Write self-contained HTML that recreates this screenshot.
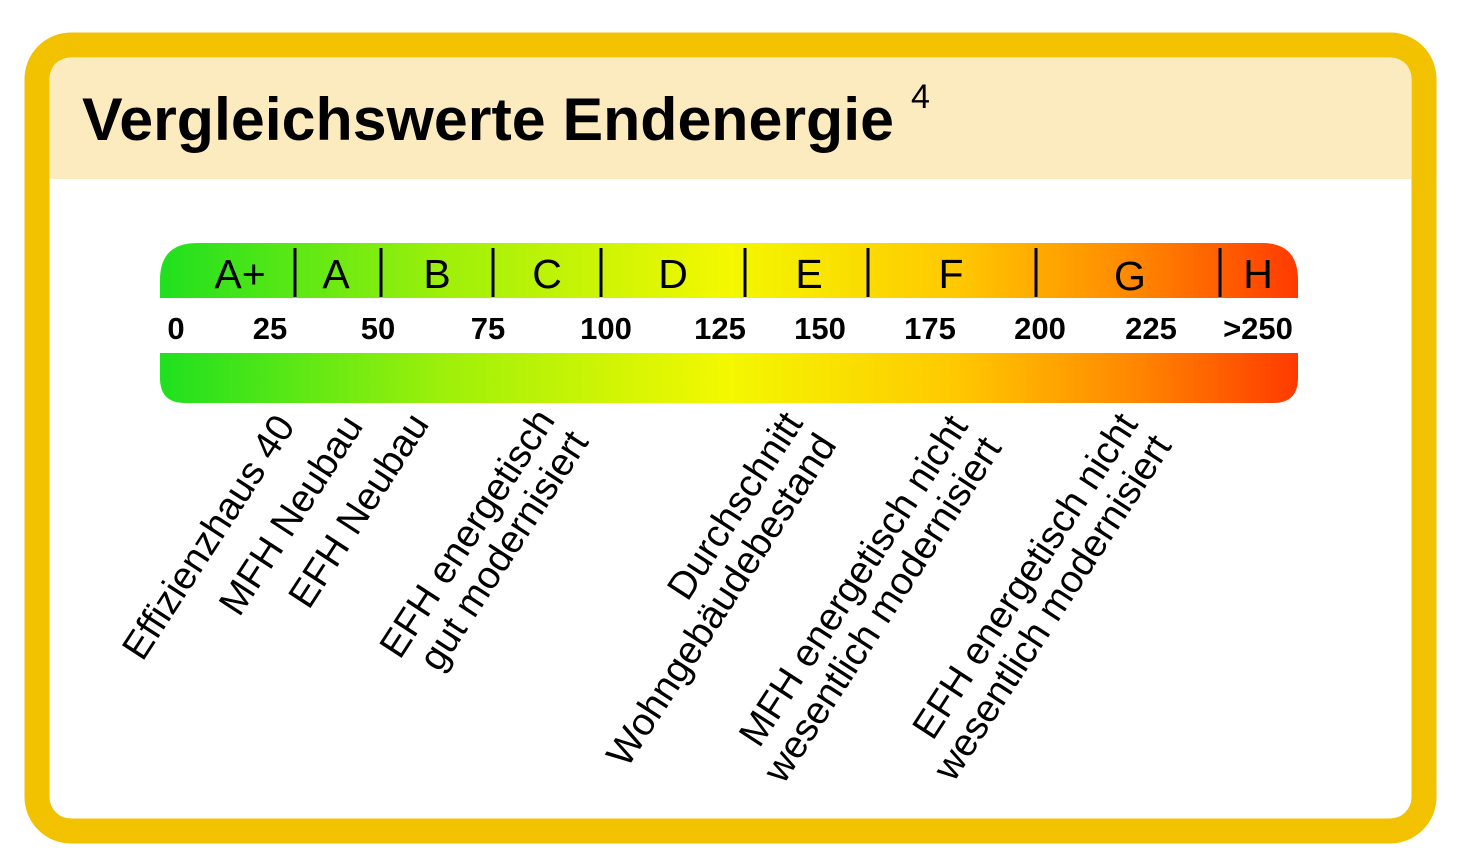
<!DOCTYPE html>
<html><head><meta charset="utf-8"><style>
html,body{margin:0;padding:0;background:#fff;}
body{width:1467px;height:867px;overflow:hidden;position:relative;font-family:"Liberation Sans",Arial,sans-serif;}
</style></head><body>
<svg width="1467" height="867" viewBox="0 0 1467 867" xmlns="http://www.w3.org/2000/svg" style="position:absolute;left:0;top:0">
<defs>
<linearGradient id="g" x1="160" y1="0" x2="1298" y2="0" gradientUnits="userSpaceOnUse">
<stop offset="0" stop-color="#1fe01f"/>
<stop offset="0.25" stop-color="#9ef00a"/>
<stop offset="0.5" stop-color="#f4f800"/>
<stop offset="0.7" stop-color="#ffc800"/>
<stop offset="0.85" stop-color="#ff8a00"/>
<stop offset="1" stop-color="#ff3a00"/>
</linearGradient>
</defs>
<rect x="37" y="45" width="1387" height="786" rx="34" fill="#fff" stroke="#f2c200" stroke-width="25"/>
<path d="M50 80 Q50 58 72 58 L1389 58 Q1411 58 1411 80 L1411 179 L50 179 Z" fill="#fdebc0"/>
<text x="82" y="140" font-size="60" font-weight="bold" fill="#000" textLength="812" lengthAdjust="spacingAndGlyphs">Vergleichswerte Endenergie</text>
<text x="911" y="108" font-size="34" fill="#000">4</text>
<path d="M160 298 L160 280 Q160 243 197 243 L1262 243 Q1298 243 1298 280 L1298 298 Z" fill="url(#g)"/>
<path d="M160 353 L1298 353 L1298 378 Q1298 403 1273 403 L185 403 Q160 403 160 378 Z" fill="url(#g)"/>
<g stroke="#000" stroke-width="3">
<line x1="295" y1="248" x2="295" y2="297"/><line x1="381" y1="248" x2="381" y2="297"/>
<line x1="493" y1="248" x2="493" y2="297"/><line x1="601" y1="248" x2="601" y2="297"/>
<line x1="745" y1="248" x2="745" y2="297"/><line x1="868" y1="248" x2="868" y2="297"/>
<line x1="1036" y1="248" x2="1036" y2="297"/><line x1="1220" y1="248" x2="1220" y2="297"/>
</g>
<g font-size="41" text-anchor="middle" fill="#000">
<text x="240" y="288">A+</text><text x="336" y="288">A</text><text x="437" y="288">B</text>
<text x="547" y="288">C</text><text x="673" y="288">D</text><text x="809" y="288">E</text>
<text x="951" y="288">F</text><text x="1130" y="290">G</text><text x="1258" y="288">H</text>
</g>
<g font-size="31" font-weight="bold" text-anchor="middle" fill="#000">
<text x="176" y="339">0</text><text x="270" y="339">25</text><text x="378" y="339">50</text>
<text x="488" y="339">75</text><text x="606" y="339">100</text><text x="720" y="339">125</text>
<text x="820" y="339">150</text><text x="930" y="339">175</text><text x="1040" y="339">200</text>
<text x="1151" y="339">225</text><text x="1258" y="339">&gt;250</text>
</g>
<g font-size="38.5" text-anchor="end" fill="#000">
<g transform="translate(296,426) rotate(-57)"><text>Effizienzhaus 40</text></g>
<g transform="translate(364,426) rotate(-57)"><text>MFH Neubau</text></g>
<g transform="translate(430,424) rotate(-57)"><text>EFH Neubau</text></g>
<g transform="translate(556,420) rotate(-57)"><text>EFH energetisch</text><text y="40">gut modernisiert</text></g>
<g transform="translate(804,423) rotate(-57)"><text>Durchschnitt</text><text y="40">Wohngebäudebestand</text></g>
<g transform="translate(969,426) rotate(-57)"><text>MFH energetisch nicht</text><text y="40">wesentlich modernisiert</text></g>
<g transform="translate(1139,424) rotate(-57)"><text>EFH energetisch nicht</text><text y="40">wesentlich modernisiert</text></g>
</g>
</svg>
</body></html>
